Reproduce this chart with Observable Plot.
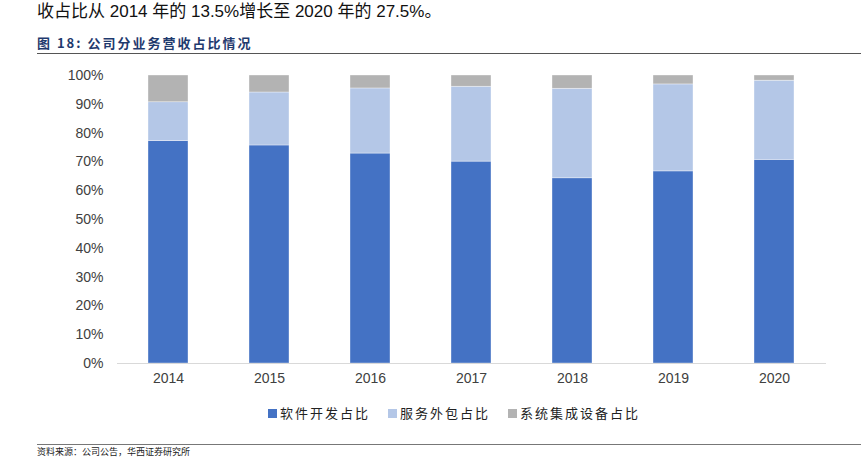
<!DOCTYPE html>
<html><head><meta charset="utf-8">
<script src="https://cdn.jsdelivr.net/npm/d3@7"></script>
<script src="https://cdn.jsdelivr.net/npm/@observablehq/plot@0.6"></script>
<style>
body{margin:0;background:#fff;width:864px;height:458px;overflow:hidden;position:relative;font-family:"Noto Sans CJK SC","Liberation Sans",sans-serif;}
#lead{position:absolute;left:37px;top:-3px;font-size:17px;color:#111;white-space:nowrap;font-family:"Liberation Sans","Noto Sans CJK SC",sans-serif;}
#title{position:absolute;left:37px;top:33px;font-size:13px;font-weight:bold;color:#1f3a6e;letter-spacing:2px;white-space:nowrap;}
#rule1{position:absolute;left:37px;top:53px;width:824px;height:0;border-top:1.5px solid #555;}
#rule2{position:absolute;left:37px;top:444px;width:824px;height:0;border-top:1.5px solid #777;}
#src{position:absolute;left:37px;top:446px;font-size:9px;line-height:11px;color:#222;white-space:nowrap;}
#chart{position:absolute;left:0;top:55px;}
#legend{position:absolute;left:0;top:403px;width:864px;font-size:13px;color:#222;letter-spacing:2px;white-space:nowrap;}
.item{position:absolute;top:0;}
.sw{display:inline-block;width:9px;height:9px;margin-right:3px;vertical-align:0px;}
</style></head>
<body>
<div id="lead">收占比从 2014 年的 13.5%增长至 2020 年的 27.5%。</div>
<div id="title">图 18: 公司分业务营收占比情况</div>
<div id="rule1"></div>
<div id="chart"></div>
<div id="legend"></div>
<div id="rule2"></div>
<div id="src">资料来源：公司公告，华西证券研究所</div>
<script>
const years = ["2014","2015","2016","2017","2018","2019","2020"];
const software = [77.2, 75.7, 72.9, 70.1, 64.3, 66.7, 70.7];
const outsourcing = [13.5, 18.4, 22.6, 26.0, 31.1, 30.2, 27.5];
const system = [9.3, 5.9, 4.5, 3.9, 4.6, 3.1, 1.8];
const seriesNames = ["软件开发占比","服务外包占比","系统集成设备占比"];
const colors = ["#4472C4","#B4C7E7","#B3B3B3"];
const yTicks = [0,10,20,30,40,50,60,70,80,90,100];

const seriesValues = [software, outsourcing, system];
const data = [];
seriesNames.forEach((s, si) => years.forEach((y, i) => data.push({year: y, series: s, value: seriesValues[si][i]})));

const chart = Plot.plot({
  width: 864,
  height: 340,
  marginTop: 20,
  marginBottom: 32,
  marginLeft: 117,
  marginRight: 38,
  style: {fontFamily: "'Liberation Sans Narrow','Liberation Sans',sans-serif", fontSize: "14px", color: "#404040"},
  x: {domain: years, paddingInner: 0.6, paddingOuter: 0.29, label: null, tickSize: 0, tickPadding: 10},
  y: {domain: [0, 100], ticks: yTicks, tickFormat: d => d + "%", label: null, tickSize: 0, tickPadding: 14},
  color: {domain: seriesNames, range: colors},
  marks: [
    Plot.barY(data, Plot.stackY({x: "year", y: "value", fill: "series", order: seriesNames, stroke: "white", strokeWidth: 0.6, strokeOpacity: 0.6})),
    Plot.ruleY([0], {stroke: "#d9d9d9", strokeWidth: 1})
  ]
});
document.getElementById("chart").appendChild(chart);

const leg = document.getElementById("legend");
const lx = [268, 388, 508];
seriesNames.forEach((s, i) => {
  const d = document.createElement("div");
  d.className = "item";
  d.style.left = lx[i] + "px";
  d.innerHTML = `<span class="sw" style="background:${colors[i]}"></span>${s}`;
  leg.appendChild(d);
});
</script>
</body></html>
